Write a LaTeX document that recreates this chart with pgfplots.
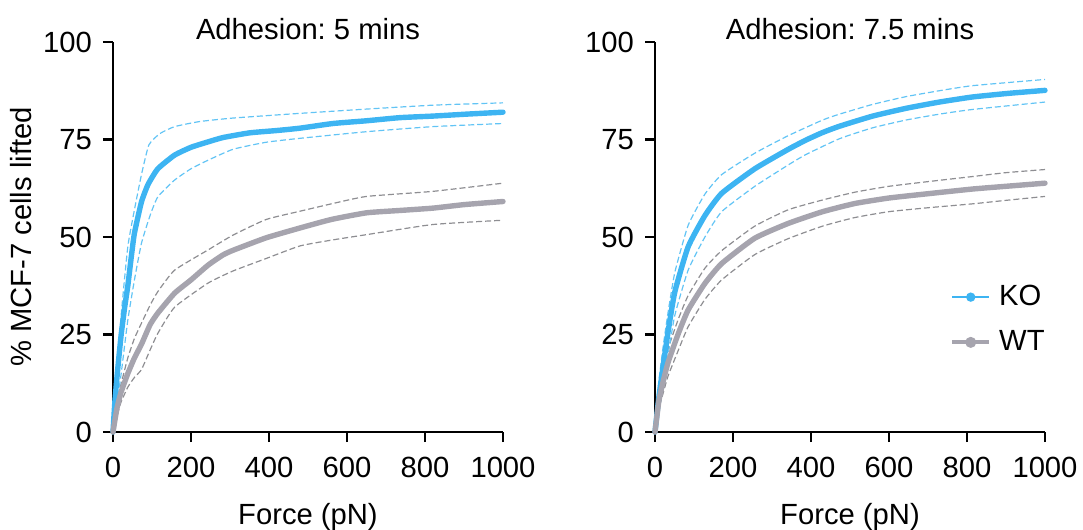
\documentclass[border=0pt]{standalone}
\usepackage{fontspec}
\setmainfont{Liberation Sans}
\usepackage{pgfplots}
\pgfplotsset{compat=1.18}
\frenchspacing

\definecolor{kocol}{HTML}{3DB4F2}
\definecolor{kodash}{HTML}{62C4F5}
\definecolor{wtcol}{HTML}{A6A4AE}
\definecolor{wtdash}{HTML}{8E8E92}

\newcommand{\lab}{\fontsize{14.6}{17}\selectfont}

\pgfplotsset{
  panel/.style={
    width=195pt, height=195pt, scale only axis,
    xmin=0, xmax=1000, ymin=0, ymax=100,
    axis x line=bottom, axis y line=left,
    axis line style={-, line width=1.25pt},
    xtick={0,200,...,1000}, ytick={0,25,50,75,100},
    tick align=outside, major tick length=5pt,
    tick style={line width=1.25pt, black},
    /pgf/number format/assume math mode=true,
    /pgf/number format/set thousands separator={},
    ticklabel style={font=\lab},
    xticklabel style={anchor=base, yshift=-17.5pt},
    yticklabel style={anchor=east, xshift=-2pt},
    xlabel={Force (pN)},
    xlabel style={at={(axis description cs:0.5,0)}, anchor=base, yshift=-46pt, font=\lab},
    title style={at={(axis description cs:0.5,1)}, anchor=base, yshift=-5pt, font=\lab},
    clip=false,
  },
  mean/.style={line width=2.7pt, line cap=round, line join=round, smooth, tension=0.3},
  band/.style={line width=0.6pt, dash pattern=on 3pt off 1.5pt, smooth, tension=0.3},
}

\begin{document}
\begin{tikzpicture}
\path[use as bounding box] (-56.5pt,-49pt) rectangle (485pt,216pt);

% Adhesion 5 mins
\begin{axis}[panel, title={Adhesion: 5 mins},
  ylabel={\% MCF-7 cells lifted},
  ylabel style={at={(axis description cs:-0.21,0.5)}, anchor=base, font=\lab}]
% WT bands
\addplot[band, wtdash] coordinates {(0,0) (10,7) (20,12) (38,19) (55,24) (73,27.9) (95,32.5) (115,36) (158,41.5) (244,46.7) (308,50.5) (393,54.5) (479,56.6) (560,58.5) (650,60.4) (820,61.7) (1000,63.8)};
\addplot[band, wtdash] coordinates {(0,0) (10,4) (20,7.5) (38,11.5) (55,14) (73,16) (95,21) (115,25.3) (158,32) (244,38.2) (308,41.3) (393,44.5) (479,47.7) (560,49.2) (650,50.6) (820,53.2) (1000,54.3)};
% KO bands
\addplot[band, kodash] coordinates {(0,0) (10,13) (21,30) (38,47.5) (55,57) (73,66) (92,73.6) (120,76.5) (158,78.3) (222,79.6) (308,80.5) (479,81.7) (650,82.8) (820,83.8) (1000,84.4)};
\addplot[band, kodash] coordinates {(0,0) (10,7) (21,15) (38,28.7) (55,39) (73,48.4) (95,55.5) (115,60.3) (158,64.6) (200,67.5) (244,69.7) (308,72.5) (393,74.3) (479,75.3) (650,77) (820,78.3) (1000,79.1)};
% means
\addplot[mean, kocol] coordinates {(0,0) (5,8) (12,16) (21,25) (30,32) (38,37.5) (47,45) (55,51) (73,59) (90,63.5) (115,67.5) (158,71) (200,73) (244,74.4) (282,75.5) (350,76.7) (420,77.3) (479,77.9) (564,79.1) (650,79.8) (735,80.6) (820,81) (906,81.5) (1000,82)};
\addplot[mean, wtcol] coordinates {(0,0) (10,6) (20,10) (38,15) (55,19) (73,22.5) (95,27.5) (115,30.5) (158,35.6) (200,39) (244,42.8) (282,45.4) (308,46.6) (393,49.8) (479,52.3) (560,54.5) (650,56.2) (735,56.8) (820,57.4) (900,58.3) (1000,59.1)};
\end{axis}

% Adhesion 7.5 mins
\begin{axis}[panel, at={(271pt,0pt)}, title={Adhesion: 7.5 mins},
  legend cell align=left,
  legend style={at={(axis description cs:0.756,0.288)}, anchor=west, draw=none, fill=none,
    inner sep=0pt, row sep=9pt, column sep=3pt, font=\lab, nodes={inner sep=1pt}},
  legend image code/.code={\draw[#1] (0pt,0pt) -- (18.5pt,0pt); \fill[#1] (9.25pt,0pt) circle (1.7pt);}]
\addlegendimage{kocol, line width=1.2pt}
\addlegendentry{KO}
\addlegendimage{wtcol, line width=2pt}
\addlegendentry{WT}
% WT bands
\addplot[band, wtdash, forget plot] coordinates {(0,0) (10,10) (21,16) (34,21.5) (60,29) (85,35) (128,42) (171,46.5) (256,52.8) (342,57) (430,59.5) (513,61.5) (600,63) (700,64.2) (814,65.5) (900,66.5) (1000,67.3)};
\addplot[band, wtdash, forget plot] coordinates {(0,0) (10,6) (21,10) (34,14.5) (60,21) (85,27) (128,34) (171,39) (256,45.5) (342,49.6) (430,52.8) (513,55) (600,56.5) (700,57.5) (814,58.5) (900,59.4) (1000,60.4)};
% KO bands
\addplot[band, kodash, forget plot] coordinates {(0,0) (10,13) (21,22) (34,31) (51,41) (85,53) (128,61) (171,66) (256,71.5) (342,76) (430,80) (473,81.5) (558,84) (644,86) (729,87.5) (814,88.8) (1000,90.4)};
\addplot[band, kodash, forget plot] coordinates {(0,0) (10,6) (21,12) (34,20) (51,30) (85,41.5) (128,50) (171,56.5) (256,63) (342,68.5) (388,71.2) (473,75.2) (558,78) (644,80) (729,81.5) (814,82.7) (1000,84.6)};
% means
\addplot[mean, kocol, forget plot] coordinates {(0,0) (10,9) (21,17) (34,26) (51,36) (85,47.5) (128,55.5) (171,61.2) (256,67.5) (342,72.5) (388,74.9) (430,76.8) (473,78.4) (558,81) (644,83) (729,84.6) (814,85.9) (903,86.8) (1000,87.6)};
\addplot[mean, wtcol, forget plot] coordinates {(0,0) (10,8) (21,13) (34,18) (60,25.3) (85,31.3) (128,38.1) (171,43.2) (256,49.7) (342,53.5) (430,56.5) (513,58.6) (600,60) (700,61.1) (814,62.3) (900,63) (1000,63.8)};
\end{axis}
\end{tikzpicture}
\end{document}
